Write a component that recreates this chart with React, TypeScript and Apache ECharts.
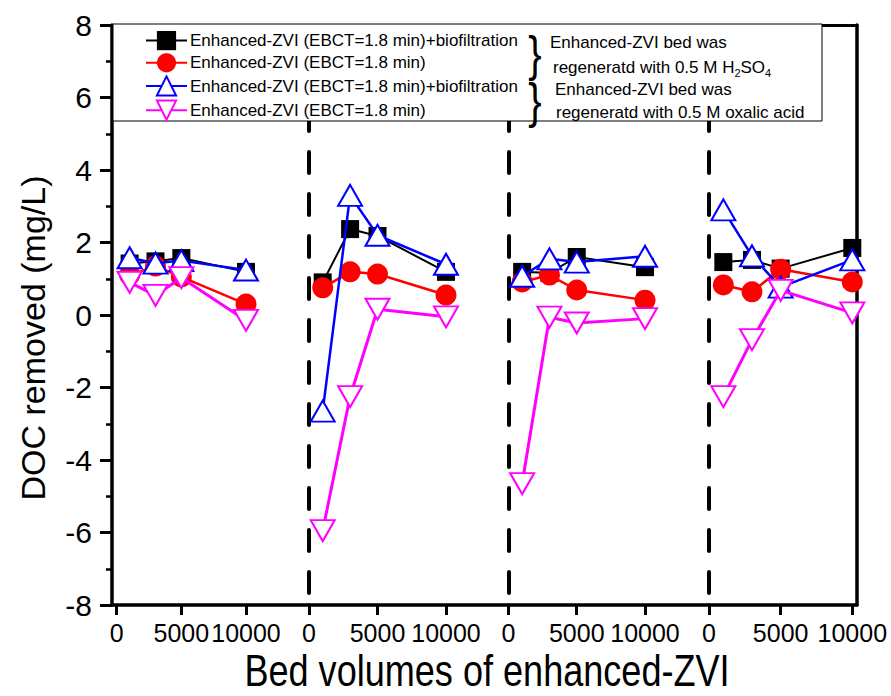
import React, { useEffect, useRef } from 'react';
import * as echarts from 'echarts';

// ---- data ----
const bedVolumes = [1000, 3000, 5000, 10000];
const segmentTicks = [0, 5000, 10000];

const seriesNames = [
  'Enhanced-ZVI (EBCT=1.8 min)+biofiltration',
  'Enhanced-ZVI (EBCT=1.8 min)',
  'Enhanced-ZVI (EBCT=1.8 min)+biofiltration ',
  'Enhanced-ZVI (EBCT=1.8 min) ',
];

// one row per regeneration segment
const h2so4Biofiltration = [
  [1.42, 1.48, 1.57, 1.19],
  [0.9, 2.37, 2.18, 1.19],
  [1.19, 1.16, 1.6, 1.32],
  [1.46, 1.52, 1.28, 1.85],
];
const h2so4Zvi = [
  [1.1, 1.35, 1.05, 0.3],
  [0.75, 1.19, 1.13, 0.55],
  [0.91, 1.1, 0.69, 0.41],
  [0.83, 0.64, 1.26, 0.91],
];
const oxalicBiofiltration = [
  [1.58, 1.43, 1.5, 1.24],
  [-2.65, 3.3, 2.2, 1.4],
  [1.07, 1.55, 1.46, 1.62],
  [2.9, 1.63, 0.77, 1.52],
];
const oxalicZvi = [
  [0.9, 0.54, 1.03, -0.15],
  [-5.95, -2.25, 0.16, -0.05],
  [-4.65, -0.06, -0.22, -0.1],
  [-2.25, -0.68, 0.68, 0.06],
];

const yLabelTitle = 'DOC removed (mg/L)';
const xLabelTitle = 'Bed volumes of enhanced-ZVI';

// ---- layout ----
const PLOT_TOP = 25;
const PLOT_H = 580;
const grids = [
  { left: 112, width: 197 },
  { left: 309, width: 199.5 },
  { left: 508.5, width: 200.5 },
  { left: 709, width: 148 },
];
const xRanges = [
  [-363, 14872],
  [0, 14562],
  [0, 14689],
  [0, 10328],
];

const ARIAL = "'Liberation Sans', Arial, sans-serif";

const styles = [
  {
    symbol: 'rect',
    symbolSize: 18,
    symbolRotate: 0,
    itemStyle: { color: '#000000' },
    lineStyle: { color: '#000000', width: 2 },
  },
  {
    symbol: 'circle',
    symbolSize: 21,
    symbolRotate: 0,
    itemStyle: { color: '#ff0000' },
    lineStyle: { color: '#ff0000', width: 2.5 },
  },
  {
    symbol: 'triangle',
    symbolSize: [24, 21],
    symbolRotate: 0,
    itemStyle: { color: '#ffffff', borderColor: '#0000ff', borderWidth: 2 },
    lineStyle: { color: '#0000ff', width: 2.5 },
  },
  {
    symbol: 'triangle',
    symbolSize: [24, 21],
    symbolRotate: 180,
    itemStyle: { color: '#ffffff', borderColor: '#ff00ff', borderWidth: 2 },
    lineStyle: { color: '#ff00ff', width: 3 },
  },
];

const allValues = [h2so4Biofiltration, h2so4Zvi, oxalicBiofiltration, oxalicZvi];

export default function App() {
  const ref = useRef<HTMLDivElement>(null);

  useEffect(() => {
    if (!ref.current) return;
    const chart = echarts.init(ref.current, null, { renderer: 'svg', width: 891, height: 696 });

    const grid = grids.map((g) => ({ left: g.left, width: g.width, top: PLOT_TOP, height: PLOT_H }));

    const bottomX = grids.map((_, i) => ({
      type: 'value',
      gridIndex: i,
      position: 'bottom',
      min: xRanges[i][0],
      max: xRanges[i][1],
      splitLine: { show: false },
      axisLine: { show: true, onZero: false, lineStyle: { color: '#000', width: 3.5 } },
      axisTick: {
        show: true,
        inside: false,
        length: 10,
        customValues: segmentTicks,
        lineStyle: { color: '#000', width: 3 },
      },
      axisLabel: {
        show: true,
        customValues: segmentTicks,
        margin: 15,
        color: '#000',
        fontSize: 25,
        fontFamily: ARIAL,
        hideOverlap: false,
        formatter: (v: number) => String(v),
      },
    }));
    const topX = grids.map((_, i) => ({
      type: 'value',
      gridIndex: i,
      position: 'top',
      min: 0,
      max: 1,
      splitLine: { show: false },
      axisLine: { show: true, onZero: false, lineStyle: { color: '#000', width: 3 } },
      axisTick: { show: false },
      axisLabel: { show: false },
    }));

    const yAxes: any[] = grids.map((_, i) =>
      i === 0
        ? {
            type: 'value',
            gridIndex: 0,
            min: -8,
            max: 8,
            interval: 2,
            position: 'left',
            splitLine: { show: false },
            axisLine: { show: true, onZero: false, lineStyle: { color: '#000', width: 3.5 } },
            axisTick: { show: true, inside: false, length: 12, lineStyle: { color: '#000', width: 3 } },
            minorTick: { show: true, splitNumber: 2, length: 6, lineStyle: { color: '#000', width: 2.5 } },
            axisLabel: { color: '#000', fontSize: 30, fontFamily: ARIAL, margin: 20 },
            name: yLabelTitle,
            nameLocation: 'middle',
            nameGap: 62,
            nameTextStyle: { color: '#000', fontSize: 34, fontFamily: ARIAL, padding: [0, 46, 0, 0] },
          }
        : {
            type: 'value',
            gridIndex: i,
            min: -8,
            max: 8,
            interval: 2,
            position: 'left',
            splitLine: { show: false },
            axisLine: {
              show: true,
              onZero: false,
              lineStyle: { color: '#000', width: 4, type: [21, 21], dashOffset: 30 },
            },
            axisTick: { show: false },
            axisLabel: { show: false },
          }
    );
    yAxes.push({
      type: 'value',
      gridIndex: 3,
      min: -8,
      max: 8,
      interval: 2,
      position: 'right',
      splitLine: { show: false },
      axisLine: { show: true, onZero: false, lineStyle: { color: '#000', width: 3.5 } },
      axisTick: { show: false },
      axisLabel: { show: false },
    });

    const series: any[] = [];
    allValues.forEach((vals, k) => {
      vals.forEach((segVals, s) => {
        series.push({
          type: 'line',
          name: seriesNames[k],
          xAxisIndex: s,
          yAxisIndex: s,
          data: bedVolumes.map((bv, j) => [bv, segVals[j]]),
          symbol: styles[k].symbol,
          symbolSize: styles[k].symbolSize,
          symbolRotate: styles[k].symbolRotate,
          showAllSymbol: true,
          itemStyle: styles[k].itemStyle,
          lineStyle: styles[k].lineStyle,
          emphasis: { disabled: true },
          z: 2 + k,
        });
      });
    });

    const txt = (text: string, x: number, y: number, extra: any = {}, el: any = {}) => ({
      type: 'text',
      x,
      y,
      z: 101,
      ...el,
      style: {
        text,
        fill: '#000',
        fontSize: 17,
        fontFamily: ARIAL,
        align: 'left',
        verticalAlign: 'middle',
        ...extra,
      },
    });

    const option: any = {
      animation: false,
      backgroundColor: '#ffffff',
      grid,
      xAxis: [...bottomX, ...topX],
      yAxis: yAxes,
      legend: {
        show: true,
        orient: 'vertical',
        left: 140,
        top: 26,
        itemWidth: 41,
        itemHeight: 24,
        itemGap: 3,
        selectedMode: false,
        z: 200,
        data: seriesNames,
        formatter: (name: string) => name.trim(),
        textStyle: { color: '#000', fontSize: 17, fontFamily: ARIAL, padding: [0, 0, 0, -2] },
      },
      graphic: {
        elements: [
          {
            type: 'rect',
            z: 100,
            shape: { x: 113, y: 24, width: 709, height: 97 },
            style: { fill: '#ffffff', stroke: '#000', lineWidth: 1 },
          },
          txt('}', 535, 54, { fontSize: 50, align: 'center' }, { scaleX: 0.8 }),
          txt('}', 535, 101, { fontSize: 50, align: 'center' }, { scaleX: 0.8 }),
          txt('Enhanced-ZVI bed was', 550, 42),
          {
            type: 'text',
            x: 553,
            y: 67,
            z: 101,
            style: {
              text: '{n|regeneratd with 0.5 M H}{s|2}{n|SO}{s|4}',
              fill: '#000',
              fontFamily: ARIAL,
              align: 'left',
              verticalAlign: 'middle',
              rich: {
                n: { fontSize: 17, lineHeight: 22, fontFamily: ARIAL, fill: '#000' },
                s: { fontSize: 11, lineHeight: 12, verticalAlign: 'bottom', fontFamily: ARIAL, fill: '#000' },
              },
            },
          },
          txt('Enhanced-ZVI bed was', 555, 89),
          txt('regeneratd with 0.5 M oxalic acid', 556, 112),
          txt(xLabelTitle, 487, 671, { fontSize: 44, align: 'center' }, { scaleX: 0.82 }),
        ],
      },
      series,
    };

    chart.setOption(option);
    return () => chart.dispose();
  }, []);

  return (
    <div
      ref={ref}
      style={{ position: 'fixed', left: 0, top: 0, width: 891, height: 696, background: '#fff' }}
    />
  );
}
